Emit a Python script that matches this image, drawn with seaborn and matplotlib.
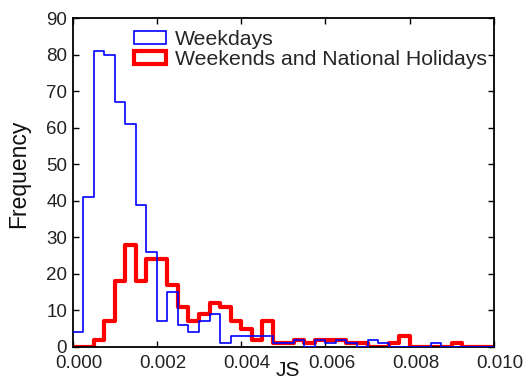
import numpy as np
import pandas as pd
import seaborn as sns
import matplotlib
matplotlib.use("Agg")
import matplotlib.pyplot as plt
import matplotlib.transforms as mtransforms
from matplotlib.patches import Patch
from matplotlib.ticker import FormatStrFormatter

# ---- data (histogram counts, 40 bins over 0..0.01) ----
n_bins = 40
js_range = (0.0, 0.01)
weekdays_counts = [4, 41, 81, 80, 67, 61, 39, 26, 7, 15,
                   6, 4, 7, 9, 1, 3, 3, 3, 3, 1,
                   1, 2, 0, 2, 1, 2, 1, 0, 2, 1,
                   0, 0, 0, 0, 1, 0, 0, 0, 0, 0]
weekends_counts = [0, 0, 2, 7, 18, 28, 18, 24, 24, 17,
                   11, 7, 9, 12, 11, 7, 5, 2, 7, 1,
                   1, 2, 1, 2, 2, 2, 1, 1, 0, 0,
                   1, 3, 0, 0, 0, 0, 1, 0, 0, 0]
series_labels = ["Weekdays", "Weekends and National Holidays"]
x_ticks = [0.000, 0.002, 0.004, 0.006, 0.008, 0.010]
y_ticks = [0, 10, 20, 30, 40, 50, 60, 70, 80, 90]

bin_edges = np.linspace(js_range[0], js_range[1], n_bins + 1)
centers = (bin_edges[:-1] + bin_edges[1:]) / 2
df = pd.DataFrame({
    "JS": np.concatenate([centers, centers]),
    "count": weekdays_counts + weekends_counts,
    "group": [series_labels[0]] * n_bins + [series_labels[1]] * n_bins,
})

sns.set_style("ticks")
plt.rcParams["font.family"] = ["Liberation Sans", "DejaVu Sans"]
plt.rcParams["xtick.direction"] = "in"
plt.rcParams["ytick.direction"] = "in"

fig = plt.figure(figsize=(5.26, 3.85), dpi=100)
ax = fig.add_axes([0.138, 0.099, 0.801, 0.853])

sub_we = df[df["group"] == series_labels[1]]
sub_wd = df[df["group"] == series_labels[0]]
sns.histplot(data=sub_we, x="JS", weights="count", bins=n_bins,
             binrange=js_range, element="step", fill=False,
             color="#ff0000", linewidth=3.0, ax=ax, zorder=2)
sns.histplot(data=sub_wd, x="JS", weights="count", bins=n_bins,
             binrange=js_range, element="step", fill=False,
             color="#0000ff", linewidth=1.2, ax=ax, zorder=3)

ax.set_xlim(0, 0.01)
ax.set_ylim(0, 90)
ax.set_xticks(x_ticks)
ax.set_yticks(y_ticks)
ax.xaxis.set_major_formatter(FormatStrFormatter("%.3f"))
ax.tick_params(axis="both", which="major", labelsize=13.5, length=4,
               width=1, top=True, right=True, colors="black",
               labelcolor="#222222")
ax.tick_params(axis="x", pad=5.5)
ax.tick_params(axis="y", pad=4)
for s in ax.spines.values():
    s.set_visible(True)
    s.set_linewidth(1.3)
    s.set_color("black")

# x tick labels sit slightly right of their ticks in the reference
offset = mtransforms.ScaledTranslation(6 / 100, 0, fig.dpi_scale_trans)
for lbl in ax.get_xticklabels():
    lbl.set_transform(lbl.get_transform() + offset)

ax.set_xlabel("JS", fontsize=15, color="#111111")
ax.xaxis.set_label_coords(0.51, -0.044)
ax.xaxis.label.set_va("top")
ax.set_ylabel("Frequency", fontsize=16.5, color="#111111")
ax.yaxis.set_label_coords(-0.101, 0.527)

handles = [Patch(facecolor="none", edgecolor="#0000ff", linewidth=1.2),
           Patch(facecolor="none", edgecolor="#ff0000", linewidth=3.0)]
ax.legend(handles, series_labels, loc="upper left",
          bbox_to_anchor=(0.145, 0.966), frameon=False, fontsize=15.3,
          handlelength=1.5, handleheight=0.55, handletextpad=0.45,
          labelspacing=0.08, borderaxespad=0.0, borderpad=0.0)

fig.savefig("out.png", dpi=100)
